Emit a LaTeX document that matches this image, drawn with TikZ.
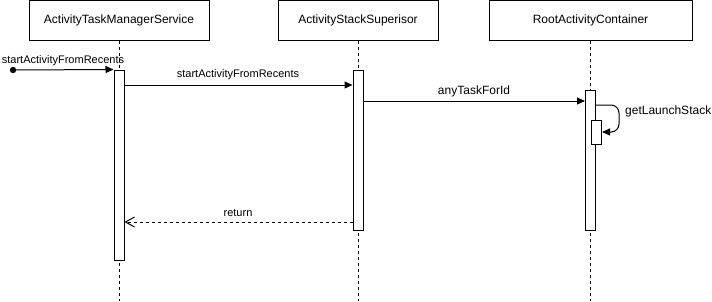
\documentclass[tikz,border=0pt]{standalone}
\usepackage{fontspec}
\setmainfont{Liberation Sans}
\usetikzlibrary{arrows.meta}
\begin{document}
\begin{tikzpicture}[x=1pt,y=-1pt,
  participant/.style={draw,line width=1pt,fill=white,minimum height=40pt,inner sep=0pt,font=\fontsize{12}{14}\selectfont},
  lifeline/.style={line width=1pt,dash pattern=on 3pt off 3pt},
  bar/.style={draw,line width=1pt,fill=white,minimum width=10pt,inner sep=0pt},
  msg/.style={line width=1pt,-{Triangle[length=8pt,width=7pt]}},
  retmsg/.style={line width=1pt,dash pattern=on 3pt off 3pt,-{Straight Barb[length=9pt,width=10pt,line width=1pt]}},
  lbl/.style={font=\fontsize{11}{13}\selectfont,inner sep=0pt}]
\useasboundingbox (0,0) rectangle (712,301);

% participants
\node[participant,minimum width=180pt] (atms) at (119,20) {ActivityTaskManagerService};
\node[participant,minimum width=160pt] (ass)  at (358,20) {ActivityStackSuperisor};
\node[participant,minimum width=203pt] (rac)  at (590.5,20) {RootActivityContainer};

% lifeline ends
\coordinate (atmsEnd) at (119,301);
\coordinate (assEnd)  at (358,301);
\coordinate (racEnd)  at (590.5,301);
\draw[lifeline] (atms.south) -- (atmsEnd);
\draw[lifeline] (ass.south) -- (assEnd);
\draw[lifeline] (rac.south) -- (racEnd);

% activation bars
\node[bar,minimum height=190pt] (a1) at (119,165) {};
\node[bar,minimum height=160pt] (a2) at (358,150) {};
\node[bar,minimum height=140pt] (a3) at (590.5,160) {};
\node[bar,minimum height=24pt]  (a4) at (596.5,132) {};

% message rows
\coordinate (r70)  at (0,70);
\coordinate (r85)  at (0,85);
\coordinate (r101) at (0,101);
\coordinate (r105) at (0,105);
\coordinate (r222) at (0,222);
\coordinate (selfx) at (619,0);

% found message
\coordinate (start) at (13,70);
\fill (start) circle (3.2pt);
\draw[msg] (start) -- (a1.north west);
\node[lbl] (l0) at (63,61) {startActivityFromRecents};

% startActivityFromRecents
\draw[msg] (a1.east |- r85) -- (a2.west |- r85);
\node[lbl] (l1) at (238,75) {startActivityFromRecents};

% anyTaskForId
\draw[msg] (a2.east |- r101) -- (a3.west |- r101);
\node[lbl,font=\fontsize{12}{14}\selectfont] (l2) at (474,91) {anyTaskForId};

% getLaunchStack (self call)
\draw[msg,rounded corners=8pt] (a3.east |- r105) -- (selfx |- r105) -- (selfx |- a4.east) -- (a4.east);
\node[lbl,anchor=west,font=\fontsize{12}{14}\selectfont] (l3) at (625,111) {getLaunchStack};

% return
\draw[retmsg] (a2.west |- r222) -- (a1.east |- r222);
\node[lbl] (l4) at (238,213) {return};
\end{tikzpicture}
\end{document}
